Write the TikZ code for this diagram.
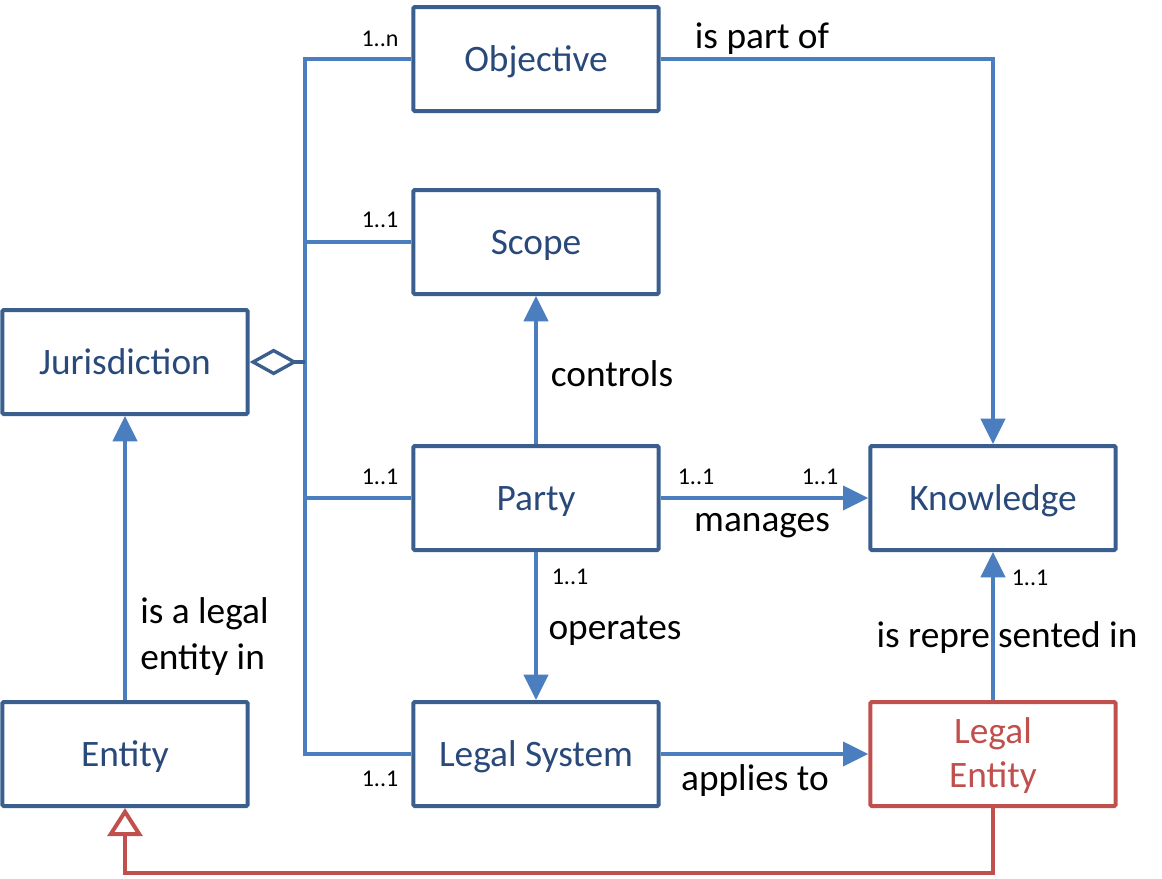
\documentclass[tikz,border=0pt]{standalone}
\usepackage{fontspec}
\setmainfont{Carlito}
\usetikzlibrary{arrows.meta}
\definecolor{boxblue}{HTML}{3A5F8F}
\definecolor{txtblue}{HTML}{28497A}
\definecolor{linkblue}{HTML}{4A7EBF}
\definecolor{genred}{HTML}{C0504D}
\begin{document}
\begin{tikzpicture}[x=0.75pt,y=-0.75pt,
  cls/.style={draw=boxblue, line width=3pt, rounded corners=1pt, text=txtblue, minimum width=184pt, minimum height=78pt, inner sep=0pt, align=center, text height=24pt, text depth=5pt, font=\fontsize{28}{33}\selectfont},
  link/.style={draw=linkblue, line width=3pt},
  head/.style={-{Triangle[length=19pt,width=18pt]}},
  lbl/.style={inner sep=0pt, font=\fontsize{28}{34.5}\selectfont},
  mult/.style={inner sep=0pt, font=\fontsize{18}{21}\selectfont}]
\useasboundingbox (0,0) rectangle (1162,878);
% classes
\node[cls] (obj) at (536,59) {Objective};
\node[cls] (scope) at (536,242) {Scope};
\node[cls] (jur) at (125,362) {Jurisdiction};
\node[cls] (party) at (536,498) {Party};
\node[cls] (know) at (993,498) {Knowledge};
\node[cls] (ent) at (125,754) {Entity};
\node[cls] (legsys) at (536,754) {Legal System};
\node[cls, draw=genred, text=genred, text height=, text depth=] (legent) at (993,754) {\raisebox{-25pt}[0pt][0pt]{\shortstack{Legal\\[6pt]Entity}}};
\coordinate (bus) at (305,362);
% aggregation
\draw[link] (obj.west) -- (obj.west -| bus) -- (legsys.west -| bus) -- (legsys.west);
\draw[link] (scope.west) -- (scope.west -| bus);
\draw[link] (party.west) -- (party.west -| bus);
\draw[boxblue, line width=2.5pt, -{Diamond[open,length=36pt,width=20pt]}] (bus) -- (jur.east);
% associations
\draw[link,head] (obj.east) -| (know.north);
\draw[link,head] (party.north) -- (scope.south);
\draw[link,head] (party.east) -- (know.west);
\draw[link,head] (party.south) -- (legsys.north);
\draw[link,head] (legsys.east) -- (legent.west);
\draw[link,head] (legent.north) -- (know.south);
\draw[link,head] (ent.north) -- (jur.south);
\draw[genred, line width=3pt, -{Triangle[open,length=21pt,width=26pt]}] (legent.south) -- ++(0,65) -| (ent.south);
% labels
\node[mult] (m1) at (380,39) {1..n};
\node[mult] (m2) at (380,220) {1..1};
\node[mult] (m3) at (380,477) {1..1};
\node[mult] (m4) at (380,779) {1..1};
\node[mult] (m5) at (696,477) {1..1};
\node[mult] (m6) at (820,477) {1..1};
\node[mult] (m7) at (570,577) {1..1};
\node[mult] (m8) at (1030,578) {1..1};
\node[lbl] (l1) at (762,39) {is part of};
\node[lbl] (l2) at (612,374) {controls};
\node[lbl] (l3) at (762,526) {manages};
\node[lbl] (l4) at (615,631) {operates};
\node[lbl] (l5) at (755,781) {applies to};
\node[lbl] (l6) at (1007,638) {is repre\hspace{6pt}sented in};
\node[lbl, align=left, anchor=west] (l7) at (140,637) {is a legal\\entity in};
\end{tikzpicture}
\end{document}
